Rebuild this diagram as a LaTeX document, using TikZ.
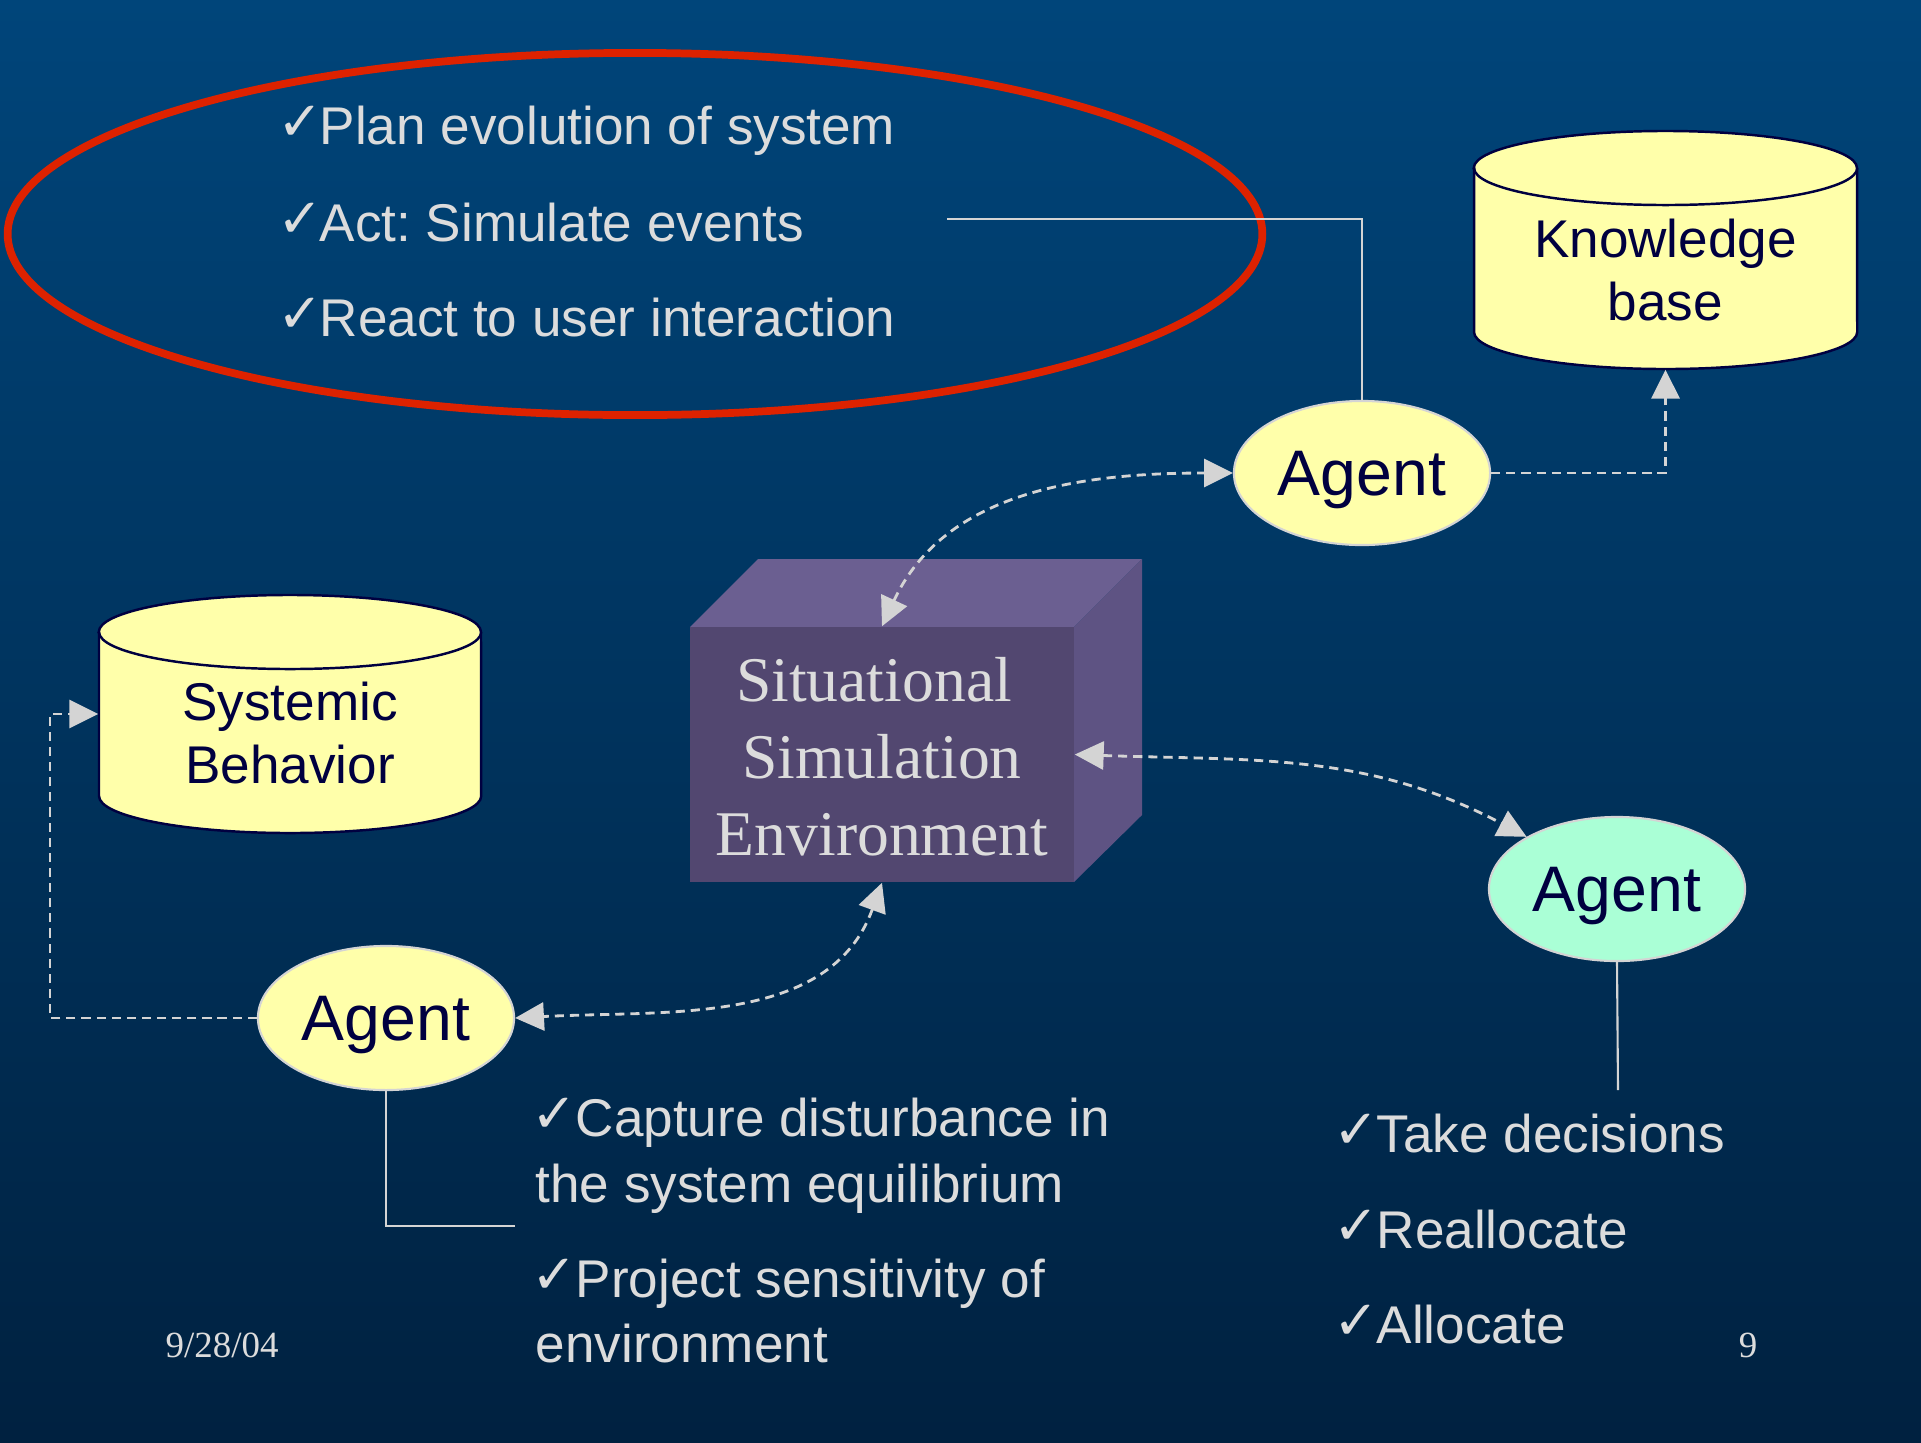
\documentclass[tikz,border=0pt]{standalone}
\usepackage{fontspec}
\setmainfont{Liberation Sans}
\newfontfamily\serifft{Liberation Serif}
\newfontfamily\chk{DejaVu Sans}
\usetikzlibrary{shapes.geometric,arrows.meta}
\definecolor{bgtop}{RGB}{0,69,122}
\definecolor{bgbot}{RGB}{0,33,64}
\definecolor{txt}{RGB}{220,220,220}
\definecolor{navy}{RGB}{0,0,64}
\definecolor{cyl}{RGB}{255,255,170}
\definecolor{agentgreen}{RGB}{170,255,214}
\definecolor{redring}{RGB}{221,34,0}
\definecolor{cubefront}{RGB}{82,71,112}
\definecolor{cubetop}{RGB}{107,95,145}
\definecolor{cubeside}{RGB}{94,83,131}
\definecolor{lgray}{RGB}{212,212,212}
\newcommand{\ck}[1]{\makebox[#1][l]{\raisebox{1pt}{\chk\fontsize{15.5}{18}\selectfont ✓}}}
\frenchspacing
\begin{document}
\begin{tikzpicture}[x=0.01cm,y=0.01cm,
  bul/.style={anchor=base west, text=txt, font=\fontsize{15.1}{18.1}\selectfont\frenchspacing, inner sep=0},
  agent/.style={ellipse, draw=lgray, line width=0.6pt, fill=cyl, minimum width=2.56cm, minimum height=1.44cm, inner sep=0, text depth=0pt, text=navy, font=\fontsize{18.3}{22}\selectfont},
  dline/.style={draw=lgray, line width=0.8pt, dash pattern=on 2.6pt off 1.7pt},
  sline/.style={draw=lgray, line width=0.6pt},
  cyltext/.style={text=navy, align=center, font=\fontsize{15.1}{18.1}\selectfont, inner sep=0},
  >={Triangle[length=8.2pt,width=8pt]},
]
\useasboundingbox (0,0) rectangle (1921,-1442);
\shade[top color=bgtop, bottom color=bgbot] (0,0) rectangle (1921,-1442);

% red ring
\draw[redring, line width=2.2pt] (635,-234) ellipse [x radius=6.27cm, y radius=1.81cm];

% Knowledge base cylinder
\path[fill=cyl, draw=navy, line width=0.7pt] (1474,-168) -- (1474,-332)
  arc[start angle=180, end angle=360, x radius=1.915cm, y radius=0.37cm] -- (1857,-168)
  arc[start angle=0, end angle=180, x radius=1.915cm, y radius=0.37cm] -- cycle;
\draw[navy, line width=0.7pt] (1474,-168) arc[start angle=180, end angle=360, x radius=1.915cm, y radius=0.37cm];
\node[minimum width=3.83cm, minimum height=2.38cm, inner sep=0] (kb) at (1665.5,-250) {};
\node[cyltext] (kbt) at (1665.5,-270) {Knowledge\\base};

% Systemic behavior cylinder
\path[fill=cyl, draw=navy, line width=0.7pt] (99,-632) -- (99,-796)
  arc[start angle=180, end angle=360, x radius=1.91cm, y radius=0.37cm] -- (481,-632)
  arc[start angle=0, end angle=180, x radius=1.91cm, y radius=0.37cm] -- cycle;
\draw[navy, line width=0.7pt] (99,-632) arc[start angle=180, end angle=360, x radius=1.91cm, y radius=0.37cm];
\node[minimum width=3.82cm, minimum height=2.38cm, inner sep=0] (sb) at (290,-714) {};
\node[cyltext] (sbt) at (290,-733) {Systemic\\Behavior};

% cube
\fill[cubetop] (690,-627) -- (758,-559) -- (1142,-559) -- (1074,-627) -- cycle;
\fill[cubeside] (1074,-627) -- (1142,-559) -- (1142,-815) -- (1074,-882) -- cycle;
\node[fill=cubefront, minimum width=3.84cm, minimum height=2.55cm, inner sep=0] (cube) at (882,-754.5) {};
\node[text=txt, align=center, inner sep=0, font=\serifft\fontsize{18.1}{21.9}\selectfont] (cubet) at (882,-757) {\hspace*{-0.16cm}Situational\\Simulation\\Environment};

% agents
\node[agent] (a1) at (1362,-473) {Agent};
\node[agent] (a2) at (386,-1018) {Agent};
\node[agent, fill=agentgreen] (a3) at (1617,-889) {Agent};

% dashed connectors
\draw[dline,<->] (cube.north) to[out=65,in=180] (a1.west);
\draw[dline,<->] (cube.east) to[out=-2,in=152] (a3.150);
\draw[dline,<->] (cube.south) to[out=-110,in=3] (a2.east);
\draw[dline,->] (a1.east) -| (kb.south);
\coordinate (sbcorner) at (50,-1018);
\draw[dline,->] (a2.west) -- (sbcorner) |- (sb.west);

% solid leader lines
\coordinate (l1end) at (947,-219);
\draw[sline] (a1.north) |- (l1end);
\coordinate (l2end) at (515,-1226);
\draw[sline] (a2.south) |- (l2end);
\coordinate (l3end) at (1618,-1090);
\draw[sline] (a3.south) -- (l3end);

% bullet texts
\node[bul] (t1) at (277,-144) {\ck{0.42cm}Plan evolution of system};
\node[bul] (t2) at (277,-241) {\ck{0.42cm}Act: Simulate events};
\node[bul] (t3) at (277,-336) {\ck{0.42cm}React to user interaction};
\node[bul] (b1) at (531,-1136) {\ck{0.44cm}Capture disturbance in};
\node[bul] (b2) at (535,-1202) {the system equilibrium};
\node[bul] (b3) at (531,-1297) {\ck{0.44cm}Project sensitivity of};
\node[bul] (b4) at (535,-1362) {environment};
\node[bul] (r1) at (1333,-1152) {\ck{0.43cm}Take decisions};
\node[bul] (r2) at (1333,-1248) {\ck{0.43cm}Reallocate};
\node[bul] (r3) at (1333,-1343) {\ck{0.43cm}Allocate};

% footer
\node[anchor=base west, text=txt, inner sep=0, font=\serifft\fontsize{10.5}{12}\selectfont] (date) at (165,-1357) {9/28/04};
\node[anchor=base, text=txt, inner sep=0, font=\serifft\fontsize{10.5}{12}\selectfont] (pg) at (1748,-1357) {9};
\end{tikzpicture}
\end{document}
